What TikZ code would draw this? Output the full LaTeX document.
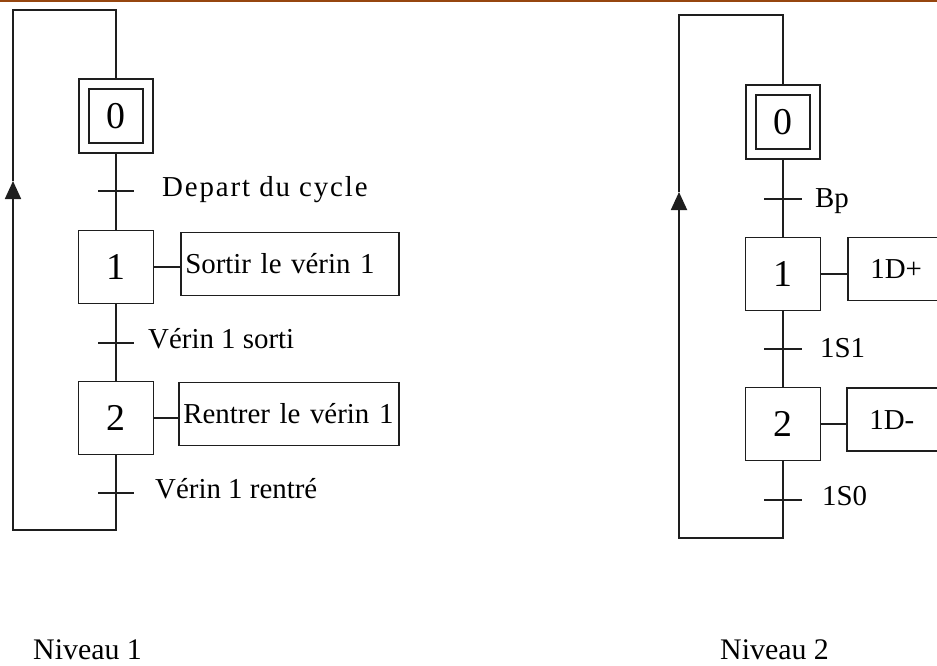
\documentclass[tikz,border=0pt]{standalone}
\usepackage{fontspec}
\setmainfont{Liberation Serif}
\usetikzlibrary{positioning,arrows.meta}

\definecolor{filet}{RGB}{150,70,15}
\definecolor{trait}{RGB}{30,30,30}

\tikzstyle{etape}=[draw=trait,line width=1.8bp,minimum width=75bp,minimum height=73bp,inner sep=0pt,font=\fontsize{38}{42}\selectfont]
\tikzstyle{initiale}=[etape,double,double distance=8bp,minimum width=64bp,minimum height=64bp,outer sep=5.8bp]
\tikzstyle{action}=[draw=trait,line width=1.8bp,minimum height=63bp,align=left,font=\fontsize{29}{34}\selectfont]
\tikzstyle{lien}=[draw,trait,line width=1.8bp]
\tikzstyle{retour}=[lien,-{Triangle[width=16bp,length=18bp]}]
\tikzstyle{receptivite}=[anchor=base west,inner sep=0pt,font=\fontsize{29}{34}\selectfont]
\tikzstyle{niveau}=[anchor=base west,inner sep=0pt,font=\fontsize{30}{36}\selectfont]

\begin{document}
\begin{tikzpicture}[x=1bp,y=-1bp]
    \useasboundingbox (0,0) rectangle (937,666);
    \draw[filet,line width=2bp] (0,1) -- (937,1);

    % niveau 1
    \node[initiale] (a0) at (116,116) {0};
    \foreach \pos/\name/\num in {{(116,267)/a1/1}, {(116,418)/a2/2}}
        \node[etape] (\name) at \pos {\num};
    \node[action,right=26bp of a1,yshift=3bp,text width=210bp,inner xsep=4bp] (sortir) {Sortir le vérin 1};
    \node[action,right=24bp of a2,yshift=4bp,text width=212bp,inner xsep=4bp] (rentrer) {Rentrer le vérin 1};
    \foreach \name/\y in {t1/191, t2/343, t3/493}
        \coordinate (\name) at (116,\y);
    \coordinate (g0) at (13,10);
    \coordinate (g1) at (13,181);
    \coordinate (g2) at (13,530);

    \foreach \source/\dest in {a0/a1, a1/a2}
        \path[lien] (\source.south) -- (\dest.north);
    \foreach \t in {t1, t2, t3}
        \path[lien] ([xshift=-18bp]\t) -- ([xshift=18bp]\t);
    \foreach \step/\act in {a1/sortir, a2/rentrer}
        \path[lien] (\step.east) -- (\step.east -| \act.west);
    \path[retour] (a2.south) |- (g2) -- (g1);
    \path[lien] (g1) -- (g0) -| (a0.north);

    \node[receptivite] (r1) at ([xshift=46bp,yshift=-5bp]t1) {\addfontfeature{LetterSpace=6.5}Depart du cycle};
    \node[receptivite] (r2) at ([xshift=32bp,yshift=-5bp]t2) {Vérin 1 sorti};
    \node[receptivite] (r3) at ([xshift=39bp,yshift=-5bp]t3) {Vérin 1 rentré};

    % niveau 2
    \node[initiale] (b0) at (783,122) {0};
    \foreach \pos/\name/\num in {{(783,274)/b1/1}, {(783,424)/b2/2}}
        \node[etape] (\name) at \pos {\num};
    \node[action,right=26bp of b1,yshift=5bp,text width=110bp,inner xsep=22bp] (plus) {1D+};
    \node[action,right=25bp of b2,yshift=4.5bp,text width=110bp,inner xsep=22bp] (moins) {1D-};
    \foreach \name/\y in {u1/199, u2/349, u3/500}
        \coordinate (\name) at (783,\y);
    \coordinate (h0) at (679,15);
    \coordinate (h1) at (679,192);
    \coordinate (h2) at (679,538);

    \foreach \source/\dest in {b0/b1, b1/b2}
        \path[lien] (\source.south) -- (\dest.north);
    \foreach \t in {u1, u2, u3}
        \path[lien] ([xshift=-19bp]\t) -- ([xshift=19bp]\t);
    \foreach \step/\act in {b1/plus, b2/moins}
        \path[lien] (\step.east) -- (\step.east -| \act.west);
    \path[retour] (b2.south) |- (h2) -- (h1);
    \path[lien] (h1) -- (h0) -| (b0.north);

    \node[receptivite] (v1) at ([xshift=32bp,yshift=-8bp]u1) {Bp};
    \node[receptivite] (v2) at ([xshift=37bp,yshift=-8bp]u2) {1S1};
    \node[receptivite] (v3) at ([xshift=39bp,yshift=-5bp]u3) {1S0};

    \node[niveau] (n1) at (33,659) {Niveau 1};
    \node[niveau] (n2) at (720,659) {Niveau 2};
\end{tikzpicture}
\end{document}
